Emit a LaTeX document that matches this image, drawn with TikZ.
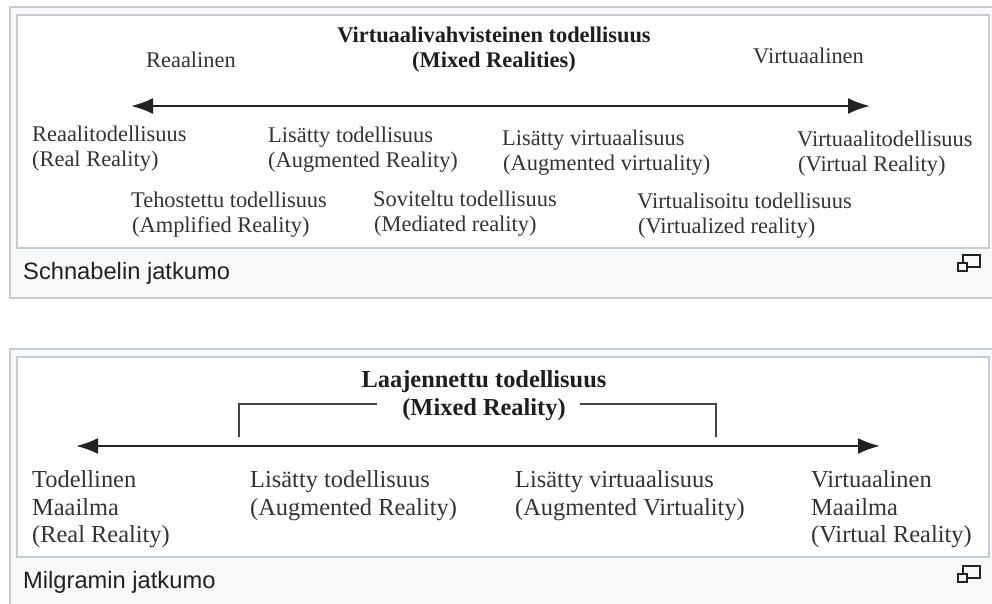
\documentclass[tikz,border=0pt]{standalone}
\usepackage{fontspec}
\setmainfont{Liberation Serif}
\newfontfamily\capfont{Liberation Sans}
\usetikzlibrary{arrows.meta}
\definecolor{frameborder}{HTML}{C8CCD1}
\definecolor{framebg}{HTML}{F8F9FA}
\definecolor{txt}{HTML}{333333}
\definecolor{ttl}{HTML}{1E1E1E}
\definecolor{capc}{HTML}{202122}
\definecolor{arr}{HTML}{222222}
\begin{document}
\begin{tikzpicture}[x=1pt,y=-1pt,
  outerframe/.style={draw=frameborder, fill=framebg, line width=2pt},
  innerframe/.style={draw=frameborder, fill=white, line width=2pt},
  labA/.style={anchor=base west, inner sep=0pt, text=txt, font=\fontsize{22.4}{25}\selectfont},
  labB/.style={anchor=base west, inner sep=0pt, text=txt, font=\fontsize{24.4}{27.5}\selectfont},
  ttlA/.style={anchor=base, inner sep=0pt, text=ttl, font=\fontsize{22.4}{25}\selectfont\bfseries},
  ttlB/.style={anchor=base, inner sep=0pt, text=ttl, font=\fontsize{24.4}{27.5}\selectfont\bfseries},
  captxt/.style={anchor=base west, inner sep=0pt, text=capc, font=\capfont\fontsize{23.7}{27}\selectfont},
  continuum/.style={draw=arr, line width=2.4pt, {Latex[length=22pt,width=16pt]}-{Latex[length=22pt,width=16pt]}},
  bracketline/.style={draw=arr!85, line width=2.4pt},
  icon/.style={draw=capc, line width=1.6pt}
]
\useasboundingbox (0,0) rectangle (992,603);
% ---------- top panel ----------
\path[outerframe] (10,7) rectangle (1005,298);
\path[innerframe] (17,15) rectangle (989,248);
\node[ttlA] (t1a) at (494,42.5) {Virtuaalivahvisteinen todellisuus};
\node[ttlA] (t1b) at (494,67.5) {(Mixed Realities)};
\node[labA] (real) at (146,67.5) {Reaalinen};
\node[labA] (virt) at (753,63.5) {Virtuaalinen};
\coordinate (aL) at (131,106);
\coordinate (aR) at (870,106);
\draw[continuum] (aL) -- (aR);
\node[labA] (rr1) at (32,141.5) {Reaalitodellisuus};
\node[labA] (rr2) at (32,166) {(Real Reality)};
\node[labA] (ar1) at (268,142.5) {Lisätty todellisuus};
\node[labA] (ar2) at (268,167.5) {(Augmented Reality)};
\node[labA] (av1) at (502,145) {Lisätty virtuaalisuus};
\node[labA] (av2) at (503,170) {(Augmented virtuality)};
\node[labA] (vr1) at (797,146.5) {Virtuaalitodellisuus};
\node[labA] (vr2) at (798,171.5) {(Virtual Reality)};
\node[labA] (am1) at (131,207) {Tehostettu todellisuus};
\node[labA] (am2) at (132,232) {(Amplified Reality)};
\node[labA] (me1) at (373,206) {Soviteltu todellisuus};
\node[labA] (me2) at (374,231) {(Mediated reality)};
\node[labA] (vz1) at (637,208.5) {Virtualisoitu todellisuus};
\node[labA] (vz2) at (638,233.5) {(Virtualized reality)};
\node[captxt] (cap1) at (23,279) {Schnabelin jatkumo};
\draw[icon] (963,255) rectangle (980,267);
\draw[icon, fill=framebg] (958,263) rectangle (967,271);
% ---------- bottom panel ----------
\path[outerframe] (10,349) rectangle (1005,620);
\path[innerframe] (17,357) rectangle (989,557);
\node[ttlB] (t2a) at (484,387.5) {Laajennettu todellisuus};
\node[ttlB] (t2b) at (484,415.5) {(Mixed Reality)};
\coordinate (bL) at (76,446);
\coordinate (bR) at (880,446);
\draw[continuum] (bL) -- (bR);
\coordinate (k1) at (239,437);
\coordinate (k2) at (377,404);
\coordinate (k3) at (580,404);
\coordinate (k4) at (716,437);
\draw[bracketline] (k1) |- (k2);
\draw[bracketline] (k3) -| (k4);
\node[labB] (tm1) at (32,487.5) {Todellinen};
\node[labB] (tm2) at (32,515) {Maailma};
\node[labB] (tm3) at (32,542.5) {(Real Reality)};
\node[labB] (la1) at (250,487.5) {Lisätty todellisuus};
\node[labB] (la2) at (250,515) {(Augmented Reality)};
\node[labB] (lv1) at (515,487.5) {Lisätty virtuaalisuus};
\node[labB] (lv2) at (515,515) {(Augmented Virtuality)};
\node[labB] (vm1) at (811,487.5) {Virtuaalinen};
\node[labB] (vm2) at (811,515) {Maailma};
\node[labB] (vm3) at (811,542.5) {(Virtual Reality)};
\node[captxt] (cap2) at (23,588.5) {Milgramin jatkumo};
\draw[icon] (963,566) rectangle (980,578);
\draw[icon, fill=framebg] (958,574) rectangle (967,582);
\end{tikzpicture}
\end{document}
